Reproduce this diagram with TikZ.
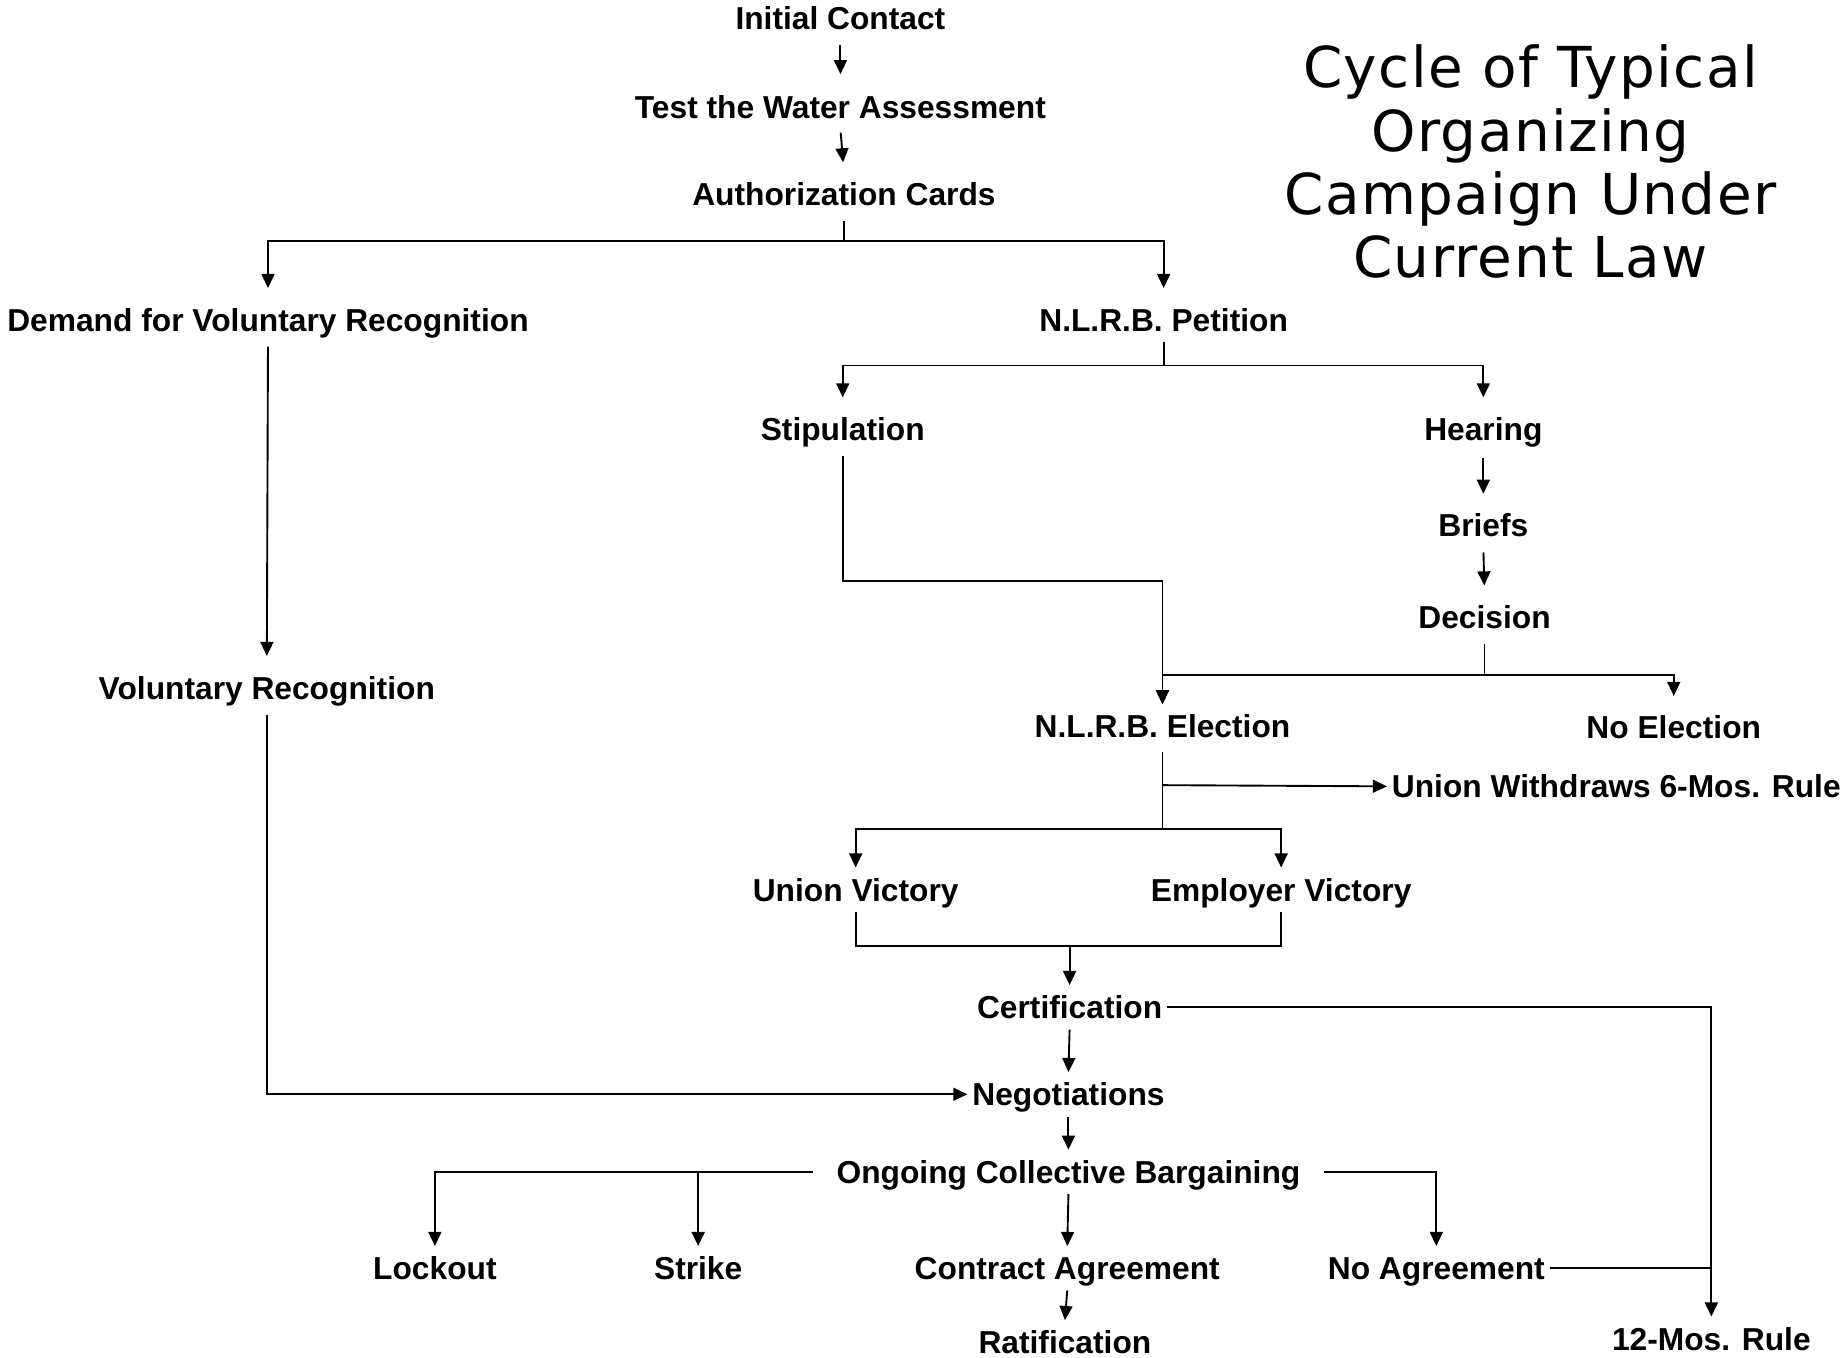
\documentclass[tikz,border=0pt]{standalone}
\usepackage{fontspec}
\setmainfont{Liberation Sans}
\newfontfamily\titlefont[LetterSpace=2.5]{DejaVu Sans}
\usetikzlibrary{arrows.meta,calc}
\begin{document}
\begin{tikzpicture}[x=1pt,y=-1pt,
  lbl/.style={font=\bfseries\fontsize{27}{32}\selectfont, text height=19.4pt, text depth=0pt, inner xsep=4pt, inner ysep=9pt},
  ttl/.style={font=\titlefont\fontsize{48}{54}\selectfont, anchor=base, inner sep=0pt},
  conn/.style={line width=1.6pt},
  arr/.style={conn, -{Triangle[length=12pt,width=11pt]}}]
\useasboundingbox[fill=white] (0,0) rectangle (1568,1155.3);
% title
\node[ttl] (t1) at (1302,74.5) {Cycle of Typical};
\node[ttl] (t2) at (1302,128.5) {Organizing};
\node[ttl] (t3) at (1302,182.5) {Campaign Under};
\node[ttl] (t4) at (1302,236.5) {Current Law};
% nodes
\node[lbl] (ic) at (715,15) {Initial Contact};
\node[lbl] (tw) at (715,91) {Test the Water Assessment};
\node[lbl] (ac) at (718,165) {Authorization Cards};
\node[lbl] (dvr) at (228,272) {Demand for Voluntary Recognition};
\node[lbl] (pet) at (990,272) {N.L.R.B. Petition};
\node[lbl] (stip) at (717,365) {Stipulation};
\node[lbl] (hear) at (1262,365) {Hearing};
\node[lbl] (brief) at (1262,447) {Briefs};
\node[lbl] (dec) at (1263,525) {Decision};
\node[lbl] (vr) at (227,585) {Voluntary Recognition};
\node[lbl] (elec) at (989,618) {N.L.R.B. Election};
\node[lbl] (noel) at (1424,619) {No Election};
\node[lbl, anchor=west] (uw) at (1180,669) {Union Withdraws 6-Mos. Rule};
\node[lbl] (uv) at (728,757) {Union Victory};
\node[lbl] (ev) at (1090,757) {Employer Victory};
\node[lbl] (cert) at (910,857) {Certification};
\node[lbl] (neg) at (909,931) {Negotiations};
\node[lbl] (ocb) at (909,997) {Ongoing Collective Bargaining};
\node[lbl] (lock) at (370,1079) {Lockout};
\node[lbl] (strike) at (594,1079) {Strike};
\node[lbl] (ca) at (908,1079) {Contract Agreement};
\node[lbl] (na) at (1222,1079) {No Agreement};
\node[lbl] (rat) at (906,1142) {Ratification};
\node[lbl] (twelve) at (1456,1139) {12-Mos. Rule};
% junctions
\coordinate (j1) at (718,205);
\coordinate (j2) at (990,311);
\coordinate (j3) at (1263,574);
\coordinate (j4) at (989,494);
\coordinate (j5) at (989,705);
\coordinate (j6) at (989,668);
\coordinate (j7) at (910,805);
% connectors
\draw[arr, shorten <=4pt, shorten >=9pt] (ic.south) -- (tw.north);
\draw[arr, shorten <=3pt, shorten >=8pt] (tw.south) -- (ac.north);
\draw[conn, shorten <=4pt] (ac.south) -- (j1);
\draw[arr, shorten >=8pt] (j1) -| (dvr.north);
\draw[arr, shorten >=8pt] (j1) -| (pet.north);
\draw[arr, shorten <=4pt, shorten >=8pt] (dvr.south) -- (vr.north);
\draw[conn] (pet.south) -- (j2);
\draw[arr, shorten >=8pt] (j2) -| (stip.north);
\draw[arr, shorten >=8pt] (j2) -| (hear.north);
\draw[arr, shorten <=6pt, shorten >=8pt] (hear.south) -- (brief.north);
\draw[arr, shorten <=4pt, shorten >=8pt] (brief.south) -- (dec.north);
\draw[conn, shorten <=4pt] (dec.south) -- (j3);
\draw[arr, shorten >=8pt] (j3) -| (noel.north);
\draw[arr] (j3) -| (elec.north);
\draw[arr, shorten <=4pt] (stip.south) |- (j4) -- (elec.north);
\draw[conn, shorten <=3pt] (elec.south) -- (j5);
\draw[arr] (j6) -- (uw.west);
\draw[arr] (j5) -| (uv.north);
\draw[arr] (j5) -| (ev.north);
\draw[conn] (uv.south) |- (j7) -| (ev.south);
\draw[arr] (j7) -- (cert.north);
\draw[arr] (cert.east) -| (twelve.north);
\draw[arr] (cert.south) -- (neg.north);
\draw[arr, shorten <=4pt] (vr.south) |- (neg.west);
\draw[arr] (neg.south) -- (ocb.north);
\draw[arr, shorten <=16pt] (ocb.west) -| (lock.north);
\draw[arr] (strike.north |- ocb.west) -- (strike.north);
\draw[arr, shorten <=16pt] (ocb.east) -| (na.north);
\draw[arr] (ocb.south) -- (ca.north);
\draw[conn] (na.east) -- (na.east -| twelve.north);
\draw[arr] (ca.south) -- (rat.north);
\end{tikzpicture}
\end{document}
